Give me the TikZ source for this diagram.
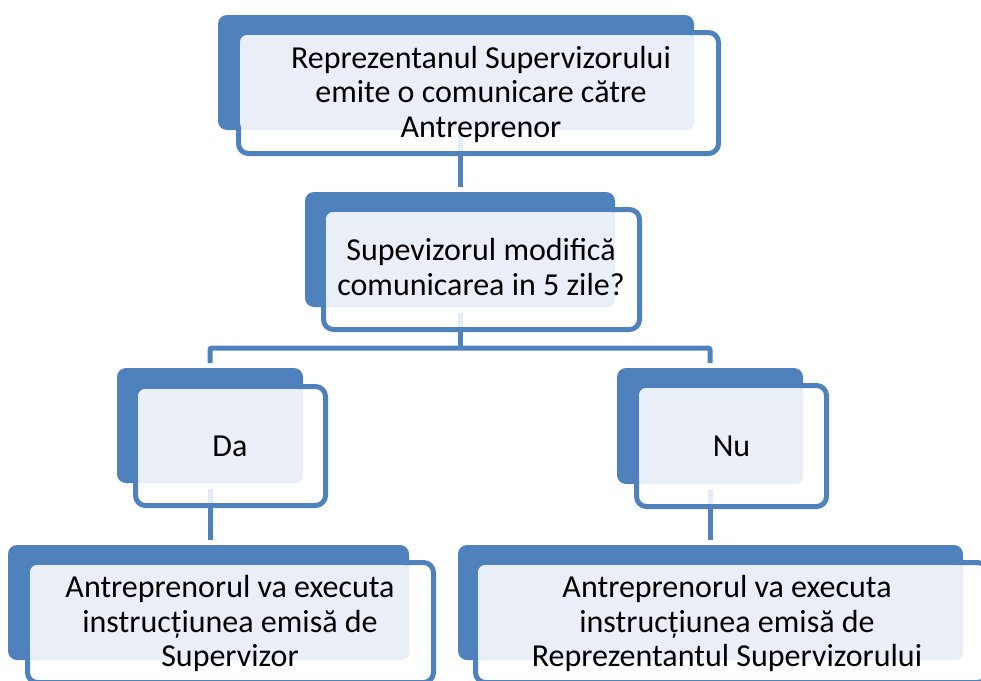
\documentclass[tikz,border=0pt]{standalone}
\usepackage{fontspec}
\setmainfont{Carlito}
\usetikzlibrary{backgrounds}
\definecolor{sablue}{HTML}{4F81BD}
\definecolor{salight}{HTML}{EAEFF7}
\begin{document}
\begin{tikzpicture}[x=1pt,y=-1pt,
  backbox/.style={rectangle, fill=sablue, rounded corners=9pt, anchor=north west, inner sep=0pt, outer sep=0pt},
  frontbox/.style={rectangle, draw=sablue, line width=5pt, fill=white, fill opacity=0.85, draw opacity=1, rounded corners=10pt, anchor=north west, inner sep=0pt, outer sep=0pt},
  lightbox/.style={rectangle, fill=salight, rounded corners=7pt, anchor=north west, inner sep=0pt, outer sep=0pt},
  boxtext/.style={anchor=base, align=center, font=\fontsize{32}{34.5}\selectfont, inner sep=0pt, text=black},
  linkline/.style={draw=sablue, line width=5pt}]
\useasboundingbox (0,0) rectangle (981,680);
\clip (0,0) rectangle (981,680);
% node 1
\node[backbox, minimum width=476pt, minimum height=115pt] (b1) at (218,15) {};
\node[frontbox, minimum width=480pt, minimum height=121pt] (f1) at (238.5,32.5) {};
\node[lightbox, minimum width=454pt, minimum height=95pt] (l1) at (240,35) {};
\node[boxtext] (t1) at (481,137) {Reprezentanul Supervizorului\\emite o comunicare către\\Antreprenor};
% node 2
\node[backbox, minimum width=310pt, minimum height=115pt] (b2) at (305,192) {};
\node[frontbox, minimum width=316pt, minimum height=120pt] (f2) at (323.5,209.5) {};
\node[lightbox, minimum width=289pt, minimum height=95pt] (l2) at (326,212) {};
\node[boxtext] (t2) at (481,295) {Supevizorul modifică\\comunicarea in 5 zile?};
% node 3
\node[backbox, minimum width=186pt, minimum height=115pt] (b3) at (117,368) {};
\node[frontbox, minimum width=190pt, minimum height=119pt] (f3) at (135.5,386.5) {};
\node[lightbox, minimum width=165pt, minimum height=94pt] (l3) at (138,389) {};
\node[boxtext] (t3) at (230,456.7) {Da};
% node 4
\node[backbox, minimum width=186pt, minimum height=116pt] (b4) at (617,368) {};
\node[frontbox, minimum width=190pt, minimum height=121pt] (f4) at (636.5,385.5) {};
\node[lightbox, minimum width=164pt, minimum height=96pt] (l4) at (639,388) {};
\node[boxtext] (t4) at (731.5,456) {Nu};
% node 5
\node[backbox, minimum width=401pt, minimum height=115pt] (b5) at (8,545) {};
\node[frontbox, minimum width=406pt, minimum height=120pt] (f5) at (27.5,562.5) {};
\node[lightbox, minimum width=379pt, minimum height=95pt] (l5) at (30,565) {};
\node[boxtext] (t5) at (230,666.7) {Antreprenorul va executa\\instrucțiunea emisă de\\Supervizor};
% node 6
\node[backbox, minimum width=505pt, minimum height=115pt] (b6) at (458,545) {};
\node[frontbox, minimum width=512pt, minimum height=120pt] (f6) at (475.5,562.5) {};
\node[lightbox, minimum width=485pt, minimum height=95pt] (l6) at (478,565) {};
\node[boxtext] (t6) at (727,666.7) {Antreprenorul va executa\\instrucțiunea emisă de\\Reprezentantul Supervizorului};
% connectors
\begin{scope}[on background layer]
\coordinate (j) at (b2.north |- 0,348);
\draw[linkline, shorten <=6pt, shorten >=5pt] (b2.north |- l1.south) -- (b2.north);
\draw[linkline, shorten <=6pt] (b2.north |- l2.south) -- (j);
\draw[linkline, shorten <=5pt, shorten >=5pt, rounded corners=2pt] (b3.north) |- (j) -| (b4.north);
\draw[linkline, shorten <=6pt, shorten >=5pt] (b3.south) -- (b3.south |- b5.north);
\draw[linkline, shorten <=6pt, shorten >=5pt] (b4.south) -- (b4.south |- b6.north);
\end{scope}
\end{tikzpicture}
\end{document}
